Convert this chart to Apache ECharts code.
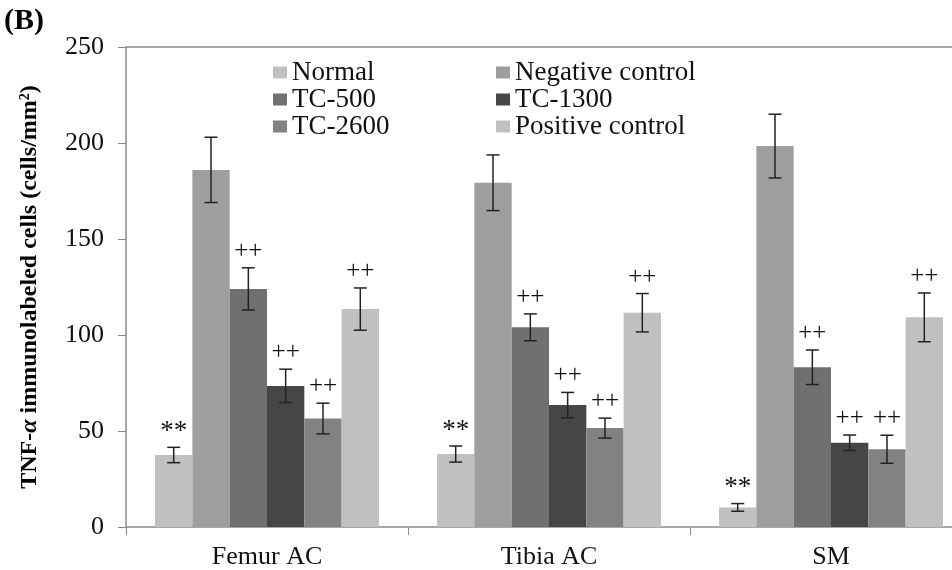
<!DOCTYPE html>
<html>
<head>
<meta charset="utf-8">
<script src="https://cdn.jsdelivr.net/npm/echarts@6/dist/echarts.min.js"></script>
<style>
  html, body { margin: 0; padding: 0; background: #fff; overflow: hidden; }
  #chart { width: 972px; height: 570px; }
</style>
</head>
<body>
<div id="chart"></div>
<script>
var categories = ['Femur AC', 'Tibia AC', 'SM'];
var seriesNames = ['Normal', 'Negative control', 'TC-500', 'TC-1300', 'TC-2600', 'Positive control'];
var colors = ['#c0c0c0', '#9e9e9e', '#707070', '#464646', '#828282', '#c0c0c0'];

// mean values per group (Femur AC, Tibia AC, SM)
var normal = [37.5, 38, 10.2];
var negative = [186, 179.3, 198.4];
var tc500 = [124, 104, 83.2];
var tc1300 = [73.5, 63.5, 43.9];
var tc2600 = [56.5, 51.5, 40.5];
var positive = [113.5, 111.6, 109.2];

// error bar half-lengths
var normalErr = [4, 4.2, 2];
var negativeErr = [17, 14.5, 16.6];
var tc500Err = [11, 7, 9];
var tc1300Err = [8.7, 6.6, 4];
var tc2600Err = [8, 5.2, 7.3];
var positiveErr = [11, 10, 12.7];

// significance marks
var normalMark = ['**', '**', '**'];
var negativeMark = ['', '', ''];
var tc500Mark = ['++', '++', '++'];
var tc1300Mark = ['++', '++', '++'];
var tc2600Mark = ['++', '++', '++'];
var positiveMark = ['++', '++', '++'];

var yTicks = [0, 50, 100, 150, 200, 250];

var allValues = [normal, negative, tc500, tc1300, tc2600, positive];
var allErrs = [normalErr, negativeErr, tc500Err, tc1300Err, tc2600Err, positiveErr];
var allMarks = [normalMark, negativeMark, tc500Mark, tc1300Mark, tc2600Mark, positiveMark];

var serif = 'Liberation Serif';
var catGap = 0.206;

var errData = [];
var errMarks = [];
for (var s = 0; s < seriesNames.length; s++) {
    for (var c = 0; c < categories.length; c++) {
        errData.push([c, s, allValues[s][c], allErrs[s][c]]);
        errMarks.push(allMarks[s][c]);
    }
}

function renderErr(params, api) {
    var cat = api.value(0), s = api.value(1), v = api.value(2), e = api.value(3);
    var band = api.size([1, 0])[0];
    var bw = band * (1 - catGap) / seriesNames.length;
    var cx = api.coord([cat, 0])[0] + (s - 2.5) * bw;
    var top = api.coord([cat, v + e])[1];
    var bot = api.coord([cat, v - e])[1];
    var half = 6.5;
    var st = { stroke: '#222', lineWidth: 1.5 };
    var children = [
        { type: 'line', shape: { x1: cx, y1: top, x2: cx, y2: bot }, style: st },
        { type: 'line', shape: { x1: cx - half, y1: top, x2: cx + half, y2: top }, style: st },
        { type: 'line', shape: { x1: cx - half, y1: bot, x2: cx + half, y2: bot }, style: st }
    ];
    var mark = errMarks[params.dataIndex];
    if (mark) {
        var star = mark === '**';
        children.push({
            type: 'text',
            style: {
                x: cx, y: top - (star ? 2 : 4), text: mark,
                textAlign: 'center', textVerticalAlign: 'bottom',
                font: (star ? 27 : 25) + 'px "' + serif + '"', fill: '#111'
            }
        });
    }
    return { type: 'group', children: children };
}

var chart = echarts.init(document.getElementById('chart'));

var series = seriesNames.map(function (name, i) {
    return {
        name: name,
        type: 'bar',
        barGap: 0,
        barCategoryGap: (catGap * 100) + '%',
        itemStyle: { color: colors[i] },
        data: allValues[i]
    };
});
series.push({
    type: 'custom',
    renderItem: renderErr,
    data: errData,
    z: 10,
    silent: true
});

var legendCommon = {
    orient: 'vertical',
    top: 59,
    padding: 0,
    itemWidth: 14,
    itemHeight: 12,
    itemGap: 0,
    icon: 'rect',
    textStyle: { fontFamily: serif, fontSize: 27, color: '#111' }
};

var option = {
    animation: false,
    title: {
        text: '(B)', left: 4, top: 6, padding: 0,
        textStyle: { fontFamily: serif, fontSize: 30, fontWeight: 'bold', color: '#000' }
    },
    legend: [
        Object.assign({ left: 273, data: ['Normal', 'TC-500', 'TC-2600'] }, legendCommon),
        Object.assign({ left: 496, data: ['Negative control', 'TC-1300', 'Positive control'] }, legendCommon)
    ],
    grid: { left: 126, top: 47, right: 0, bottom: 43 },
    xAxis: [
        {
            type: 'category',
            data: categories,
            axisLine: { lineStyle: { color: '#8a8a8a', width: 1.5 } },
            axisTick: { show: true, length: 8, lineStyle: { color: '#8a8a8a' } },
            axisLabel: { fontFamily: serif, fontSize: 26, color: '#111', margin: 17 }
        },
        {
            type: 'category',
            data: categories,
            position: 'top',
            axisLine: { lineStyle: { color: '#8a8a8a', width: 1.5 } },
            axisTick: { show: false },
            axisLabel: { show: false }
        }
    ],
    yAxis: {
        type: 'value',
        min: yTicks[0],
        max: yTicks[yTicks.length - 1],
        interval: 50,
        splitLine: { show: false },
        axisLine: { show: true, lineStyle: { color: '#8a8a8a', width: 1.5 } },
        axisTick: { show: true, length: 8, lineStyle: { color: '#8a8a8a' } },
        axisLabel: { fontFamily: serif, fontSize: 26, color: '#111', margin: 22 },
        name: 'TNF-{it|α} immunolabeled cells (cells/mm{sup|2})',
        nameLocation: 'middle',
        nameRotate: 90,
        nameGap: 84,
        nameTextStyle: {
            fontFamily: serif, fontSize: 24, fontWeight: 'bold', color: '#000',
            rich: {
                it: { fontFamily: serif, fontSize: 24, fontWeight: 'bold', fontStyle: 'italic', color: '#000' },
                sup: { fontFamily: serif, fontSize: 14, fontWeight: 'bold', color: '#000', verticalAlign: 'top', padding: [0, 0, 10, 0] }
            }
        }
    },
    series: series
};

chart.setOption(option);
</script>
</body>
</html>
